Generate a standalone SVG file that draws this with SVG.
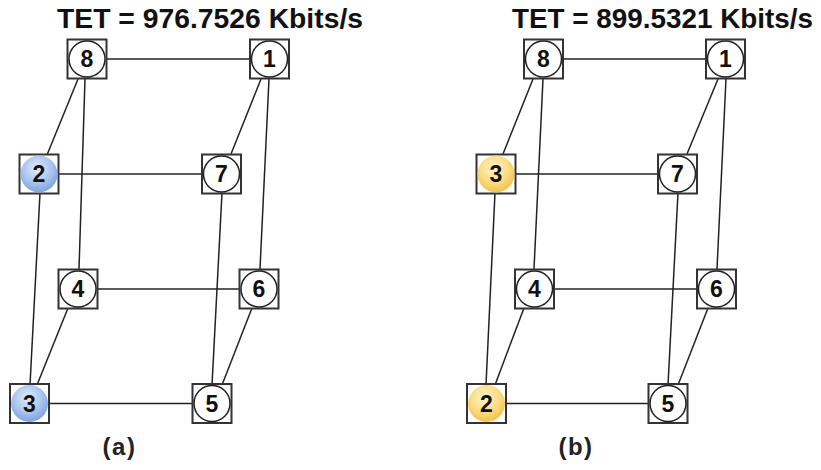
<svg xmlns="http://www.w3.org/2000/svg" width="821" height="470" viewBox="0 0 821 470">
  <defs>
    <radialGradient id="blueFill" cx="0.45" cy="0.35" r="0.65">
      <stop offset="0" stop-color="#e4eefc"/>
      <stop offset="0.6" stop-color="#a9c4ee"/>
      <stop offset="1" stop-color="#7ea3e0"/>
    </radialGradient>
    <radialGradient id="yellowFill" cx="0.45" cy="0.35" r="0.65">
      <stop offset="0" stop-color="#fff3c8"/>
      <stop offset="0.6" stop-color="#fbdc82"/>
      <stop offset="1" stop-color="#f0c24a"/>
    </radialGradient>
  </defs>
  <style>
    .edge { stroke: #222; stroke-width: 1.5; fill: none; }
    .box { fill: #fff; stroke: #333; stroke-width: 2; }
    .ring { fill: #fff; stroke: #222; stroke-width: 1.5; }
    .blue { fill: url(#blueFill); stroke: none; }
    .yellow { fill: url(#yellowFill); stroke: none; }
    .num { font-family: "Liberation Sans", Arial, sans-serif; font-weight: bold; font-size: 23px; text-anchor: middle; fill: #111; }
    .title { font-family: "Liberation Sans", Arial, sans-serif; font-weight: bold; font-size: 27px; fill: #111; }
    .cap { font-family: "Liberation Sans", Arial, sans-serif; font-weight: bold; font-size: 24px; text-anchor: middle; fill: #222; letter-spacing: 1.5px; }
  </style>

  <!-- titles -->
  <text class="title" x="57" y="28" textLength="306" lengthAdjust="spacingAndGlyphs">TET = 976.7526 Kbits/s</text>
  <text class="title" x="512" y="28" textLength="301" lengthAdjust="spacingAndGlyphs">TET = 899.5321 Kbits/s</text>

  <!-- connectors -->
  <g id="connectors">
    <!-- (a) -->
    <line class="edge" x1="107" y1="59" x2="250" y2="59"/>
    <line class="edge" x1="59" y1="174" x2="202" y2="174"/>
    <line class="edge" x1="98" y1="289" x2="239" y2="289"/>
    <line class="edge" x1="50" y1="403.5" x2="192" y2="403.5"/>
    <line class="edge" x1="78" y1="79" x2="47" y2="155"/>
    <line class="edge" x1="85" y1="79" x2="79" y2="269"/>
    <line class="edge" x1="261" y1="79" x2="231" y2="154"/>
    <line class="edge" x1="269" y1="79" x2="260" y2="269"/>
    <line class="edge" x1="40" y1="193" x2="30" y2="385"/>
    <line class="edge" x1="222" y1="193" x2="212" y2="385"/>
    <line class="edge" x1="68" y1="308" x2="37" y2="385"/>
    <line class="edge" x1="252" y1="308" x2="222" y2="385"/>
    <!-- (b) -->
    <line class="edge" x1="563" y1="59" x2="706" y2="59"/>
    <line class="edge" x1="515" y1="174" x2="658" y2="174"/>
    <line class="edge" x1="554" y1="289" x2="697" y2="289"/>
    <line class="edge" x1="506" y1="403.5" x2="649" y2="403.5"/>
    <line class="edge" x1="533" y1="79" x2="503" y2="154"/>
    <line class="edge" x1="543" y1="79" x2="534" y2="269"/>
    <line class="edge" x1="718" y1="79" x2="687" y2="154"/>
    <line class="edge" x1="726" y1="79" x2="717" y2="269"/>
    <line class="edge" x1="495" y1="193" x2="486" y2="385"/>
    <line class="edge" x1="678" y1="193" x2="668" y2="385"/>
    <line class="edge" x1="524" y1="308" x2="495" y2="385"/>
    <line class="edge" x1="708" y1="308" x2="678" y2="385"/>
  </g>

  <!-- nodes of (a) -->
  <g id="a-node-8" transform="translate(87,59)"><rect class="box" x="-19.5" y="-19.5" width="39" height="39"/><circle class="ring" r="18"/><text class="num" y="8">8</text></g>
  <g id="a-node-1" transform="translate(269.5,59)"><rect class="box" x="-19.5" y="-19.5" width="39" height="39"/><circle class="ring" r="18"/><text class="num" y="8">1</text></g>
  <g id="a-node-2" transform="translate(39,174)"><rect class="box" x="-19.5" y="-19.5" width="39" height="39"/><circle class="blue" r="18.5"/><text class="num" y="8">2</text></g>
  <g id="a-node-7" transform="translate(221.5,174)"><rect class="box" x="-19.5" y="-19.5" width="39" height="39"/><circle class="ring" r="18"/><text class="num" y="8">7</text></g>
  <g id="a-node-4" transform="translate(78,289)"><rect class="box" x="-19.5" y="-19.5" width="39" height="39"/><circle class="ring" r="18"/><text class="num" y="8">4</text></g>
  <g id="a-node-6" transform="translate(259,289)"><rect class="box" x="-19.5" y="-19.5" width="39" height="39"/><circle class="ring" r="18"/><text class="num" y="8">6</text></g>
  <g id="a-node-3" transform="translate(29.5,403.5)"><rect class="box" x="-19.5" y="-19.5" width="39" height="39"/><circle class="blue" r="18.5"/><text class="num" y="8">3</text></g>
  <g id="a-node-5" transform="translate(212,403.5)"><rect class="box" x="-19.5" y="-19.5" width="39" height="39"/><circle class="ring" r="18"/><text class="num" y="8">5</text></g>

  <!-- nodes of (b) -->
  <g id="b-node-8" transform="translate(543.5,59)"><rect class="box" x="-19.5" y="-19.5" width="39" height="39"/><circle class="ring" r="18"/><text class="num" y="8">8</text></g>
  <g id="b-node-1" transform="translate(725.5,59)"><rect class="box" x="-19.5" y="-19.5" width="39" height="39"/><circle class="ring" r="18"/><text class="num" y="8">1</text></g>
  <g id="b-node-3" transform="translate(496,174)"><rect class="box" x="-19.5" y="-19.5" width="39" height="39"/><circle class="yellow" r="18.5"/><text class="num" y="8">3</text></g>
  <g id="b-node-7" transform="translate(677.5,174)"><rect class="box" x="-19.5" y="-19.5" width="39" height="39"/><circle class="ring" r="18"/><text class="num" y="8">7</text></g>
  <g id="b-node-4" transform="translate(534.5,289)"><rect class="box" x="-19.5" y="-19.5" width="39" height="39"/><circle class="ring" r="18"/><text class="num" y="8">4</text></g>
  <g id="b-node-6" transform="translate(716.5,289)"><rect class="box" x="-19.5" y="-19.5" width="39" height="39"/><circle class="ring" r="18"/><text class="num" y="8">6</text></g>
  <g id="b-node-2" transform="translate(486.5,403.5)"><rect class="box" x="-19.5" y="-19.5" width="39" height="39"/><circle class="yellow" r="18.5"/><text class="num" y="8">2</text></g>
  <g id="b-node-5" transform="translate(668,403.5)"><rect class="box" x="-19.5" y="-19.5" width="39" height="39"/><circle class="ring" r="18"/><text class="num" y="8">5</text></g>

  <!-- captions -->
  <text class="cap" x="119.5" y="455">(a)</text>
  <text class="cap" x="576" y="455">(b)</text>
</svg>
